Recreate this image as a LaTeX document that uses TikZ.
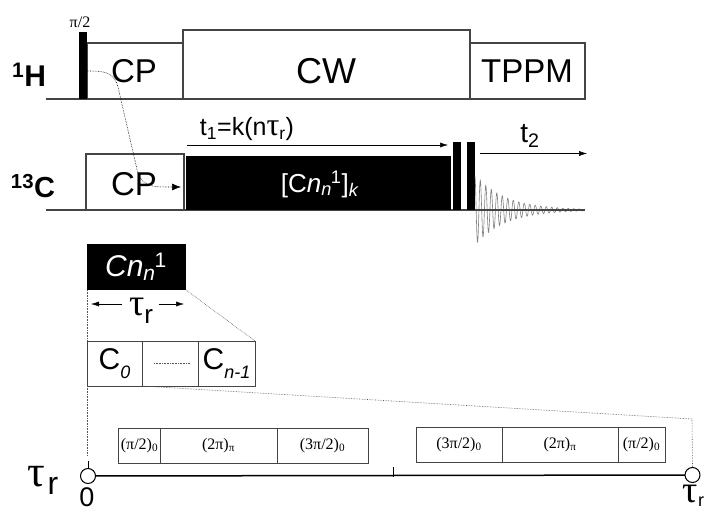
\documentclass[tikz,border=0pt]{standalone}
\usepackage{fontspec}
\setmainfont{Liberation Sans}
\newfontfamily\symbfont{Liberation Serif}
\usetikzlibrary{arrows.meta,positioning}
\definecolor{pulseline}{HTML}{444444}
\definecolor{dotline}{HTML}{555555}
\newcommand{\supsub}[2]{\textsubscript{#2}\kern-1pt\textsuperscript{#1}}
\newcommand{\sizefont}[1]{\fontsize{#1}{#1}\selectfont}
\newcommand{\ttau}[1]{{\symbfont\sizefont{#1}τ}}
\newcommand{\lowsub}[2]{\raisebox{-0.3em}{\sizefont{#1}#2}}
\begin{document}
\begin{tikzpicture}[x=1pt, y=-1pt,
    every node/.style={font=\sizefont{33}, inner sep=0pt, outer sep=0pt},
    pbox/.style={draw=pulseline, line width=1.1pt, fill=white},
    blackbox/.style={draw=none, fill=black, text=white},
    cbox/.style={draw=pulseline, line width=0.8pt, fill=white, font=\sizefont{30}},
    seqbox/.style={draw=pulseline, line width=0.7pt, font=\symbfont\sizefont{16}},
    axis/.style={pulseline, line width=1.5pt},
    dotted link/.style={dotline, line width=0.6pt, densely dotted},
    timearrow/.style={-{Latex[length=8pt,width=5pt]}, line width=0.5pt},
    mark circle/.style={circle, draw=black, line width=1pt, fill=white, minimum size=15pt}]
  \useasboundingbox (0,0) rectangle (706,513);
  % 1H channel
  \coordinate (hstart) at (46,99);
  \coordinate (hend) at (585,99);
  \draw[axis] (hstart) -- (hend);
  \node[pbox, minimum width=96, minimum height=56] (cph) at (135,71) {};
  \node[pbox, minimum width=287, minimum height=69] (cw) at (326.5,64.5) {};
  \node[pbox, minimum width=115, minimum height=56] (tppm) at (527.5,71) {};
  \node (cphtext) at (134,71) {CP};
  \node[font=\sizefont{36}] (cwtext) at (326,71) {CW};
  \node (tppmtext) at (527,71) {TPPM};
  \node[blackbox, minimum width=8, minimum height=67] (ninety) at (83,65.5) {};
  \node[font=\symbfont\sizefont{16}] (ninetytext) at (80,22) {π/2};
  \node[font=\bfseries\sizefont{30}] (htext) at (29,75) {\textsuperscript{1}H};
  % 13C channel
  \coordinate (cstart) at (46,210);
  \coordinate (cend) at (585,210);
  \draw[axis] (cstart) -- (cend);
  \node[pbox, minimum width=98, minimum height=56] (cpc) at (135,182) {};
  \node (cpctext) at (134,184) {CP};
  \node[blackbox, minimum width=265, minimum height=54] (dream) at (318.5,183) {};
  \node[text=white, font=\sizefont{26}] (dreamtext) at (320,184) {[C\textit{n}\supsub{1}{\textit{n}}]\textsubscript{\textit{k}}};
  \node[blackbox, minimum width=8, minimum height=68] (zfa) at (457,176) {};
  \node[blackbox, minimum width=8, minimum height=68] (zfb) at (471,176) {};
  \node[font=\bfseries\sizefont{29}] (ctext) at (33,186) {\textsuperscript{13}C};
  \draw[gray, line width=0.6pt] plot[domain=475:585, samples=500] (\x,{210-33*exp(-(\x-477)/30)*cos(65.4545*(\x-480.3))});
  \draw[axis] (475,210) -- (cend);
  % evolution times
  \coordinate (tonestart) at (187,145);
  \coordinate (toneend) at (448,145);
  \coordinate (ttwostart) at (480,153.5);
  \coordinate (ttwoend) at (587,153.5);
  \draw[timearrow] (tonestart) -- (toneend);
  \draw[timearrow] (ttwostart) -- (ttwoend);
  \node[font=\sizefont{25}] (tonetext) at (247,129) {t\textsubscript{1}=k(n\ttau{32}\textsubscript{r})};
  \node[font=\sizefont{28}] (ttwotext) at (530,136) {t\textsubscript{2}};
  % polarisation transfer
  \coordinate (xferstart) at (87,71);
  \coordinate (xferend) at (181,187);
  \draw[dotted link, -{Latex[length=9pt,width=7pt]}, black] (xferstart) .. controls (105,71) and (114,72) .. (118,87) -- (136,165) .. controls (140,187) and (150,187) .. (xferend);
  % one C element
  \node[blackbox, minimum width=99, minimum height=46] (element) at (136.5,267) {};
  \node[text=white, font=\sizefont{30}] (elementtext) at (136,267) {\textit{Cn}\supsub{1}{\textit{n}}};
  \node[font=\sizefont{26}] (elementtau) at (141,311) {\ttau{38}\lowsub{26}{r}};
  \coordinate (taularrow) at (91,304);
  \coordinate (taulmid) at (122,304);
  \coordinate (taurmid) at (159,304);
  \coordinate (taurarrow) at (184,304);
  \draw[timearrow] (taulmid) -- (taularrow);
  \draw[timearrow] (taurmid) -- (taurarrow);
  % C0 ... Cn-1
  \node[cbox, minimum width=55, minimum height=45] (czero) at (114.5,363.5) {C\lowsub{18}{\textit{0}}};
  \node[cbox, minimum width=56, minimum height=45] (cdots) at (170,363.5) {};
  \node[cbox, minimum width=57, minimum height=45] (clast) at (226.5,363.5) {C\lowsub{18}{\textit{n-1}}};
  \draw[dotted link] ([xshift=-16]cdots.center) -- ([xshift=20]cdots.center);
  \draw[dotted link] (element.south west) -- (czero.north west);
  \draw[dotted link] (element.south east) -- (clast.north east);
  % zoom to the rotor period
  \coordinate (leftmark) at (87,455);
  \coordinate (rightcorner) at (692,419);
  \node[mark circle] (zero) at (88,476) {};
  \node[mark circle] (period) at (692.5,475) {};
  \draw[axis, black] (zero) -- (period);
  \draw[line width=1pt] (zero.north) -- ++(0,-8);
  \coordinate (midtick) at (393,477);
  \draw[line width=1pt] (midtick) -- ++(0,-10);
  \draw[dotted link] (czero.south west) -- (leftmark);
  \draw[dotted link] (czero.south east) -- (rightcorner) -- (period.north);
  % first half
  \node[seqbox, minimum width=42, minimum height=35] (lone) at (139.5,445.5) {(π/2)\textsubscript{0}};
  \node[seqbox, minimum width=117, minimum height=35] (ltwo) at (218.5,445.5) {(2π)\textsubscript{π}};
  \node[seqbox, minimum width=91, minimum height=35] (lthree) at (322.5,445.5) {(3π/2)\textsubscript{0}};
  % second half
  \node[seqbox, minimum width=86, minimum height=35] (rone) at (459,444.5) {(3π/2)\textsubscript{0}};
  \node[seqbox, minimum width=116, minimum height=35] (rtwo) at (560,444.5) {(2π)\textsubscript{π}};
  \node[seqbox, minimum width=47, minimum height=35] (rthree) at (641.5,444.5) {(π/2)\textsubscript{0}};
  % labels on the axis
  \node[font=\sizefont{26}] (lefttau) at (43,480) {\ttau{44}\kern2pt\lowsub{32}{r}};
  \node[font=\sizefont{27}] (zerotext) at (87,497) {0};
  \node[font=\sizefont{16}, anchor=base east] (righttau) at (704,502) {\ttau{38}\lowsub{18}{r}};
\end{tikzpicture}
\end{document}
